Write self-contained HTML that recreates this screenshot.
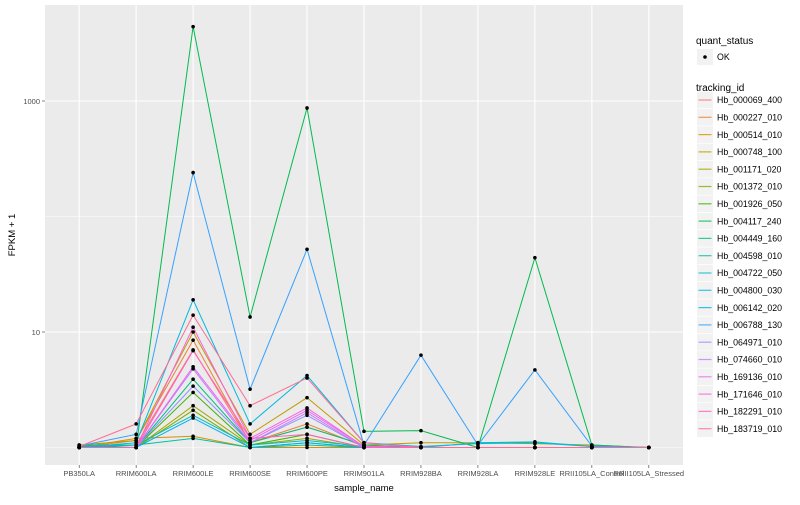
<!DOCTYPE html>
<html><head><meta charset="utf-8"><style>body{margin:0;background:#fff}svg{font-family:"Liberation Sans",sans-serif}</style></head>
<body>
<svg id="c" width="800" height="500"></svg>
<script>
const categories=["PB350LA","RRIM600LA","RRIM600LE","RRIM600SE","RRIM600PE","RRIM901LA","RRIM928BA","RRIM928LA","RRIM928LE","RRII105LA_Control","RRII105LA_Stressed"];
const seriesNames=["Hb_000069_400","Hb_000227_010","Hb_000514_010","Hb_000748_100","Hb_001171_020","Hb_001372_010","Hb_001926_050","Hb_004117_240","Hb_004449_160","Hb_004598_010","Hb_004722_050","Hb_004800_030","Hb_006142_020","Hb_006788_130","Hb_064971_010","Hb_074660_010","Hb_169136_010","Hb_171646_010","Hb_182291_010","Hb_183719_010"];
const seriesColors=["#F8766D","#EA8331","#D89000","#C09B00","#A3A500","#7CAE00","#39B600","#00BB4E","#00BF7D","#00C1A3","#00BFC4","#00BAE0","#00B0F6","#35A2FF","#9590FF","#C77CFF","#E76BF3","#FA62DB","#FF62BC","#FF6C91"];
const s0=[1.02,1.05,7.0,1.1,1.5,1.05,1,1,1,1,1];
const s1=[1,1.15,8.5,1.1,1.6,1.02,1,1,1,1,1];
const s2=[1,1.2,1.25,1,1,1,1,1,1,1,1];
const s3=[1.05,1.15,10,1.3,2.7,1.05,1.1,1.1,1.08,1.05,1];
const s4=[1,1,2.3,1.05,1.2,1,1,1,1,1,1];
const s5=[1,1,2.1,1,1.1,1,1,1,1,1,1];
const s6=[1,1,3.0,1.05,1.3,1,1,1,1,1,1];
const s7=[1.03,1,4400,13.5,870,1.38,1.4,1,44,1.05,1];
const s8=[1,1,3.9,1.1,1.5,1.05,1,1,1,1,1];
const s9=[1.05,1.05,1.2,1,1.05,1,1,1,1,1,1];
const s10=[1,1.05,1.9,1.05,1.15,1.02,1,1.1,1.12,1.02,1];
const s11=[1,1.1,19,1.6,4.2,1.1,1.02,1.08,1.1,1.02,1];
const s12=[1,1,1.8,1,1.1,1,1,1,1,1,1];
const s13=[1.03,1.3,240,3.2,52,1.05,6.3,1.05,4.7,1.03,1];
const s14=[1,1,3.4,1.1,1.9,1,1,1,1,1,1];
const s15=[1,1,4.8,1.1,2.0,1,1,1,1,1,1];
const s16=[1,1,5.0,1.15,2.1,1.02,1,1,1,1,1];
const s17=[1,1,11,1.2,2.2,1.02,1,1,1,1,1];
const s18=[1,1,6.9,1.2,1.3,1,1,1,1,1,1];
const s19=[1.02,1.6,14,2.3,4.0,1.1,1,1,1,1,1];
const seriesValues=[s0,s1,s2,s3,s4,s5,s6,s7,s8,s9,s10,s11,s12,s13,s14,s15,s16,s17,s18,s19];
const yTickValues=[10,1000];
const yTickLabels=["10","1000"];
const yMinorValues=[1,100];

const NS="http://www.w3.org/2000/svg";
const svg=document.getElementById('c');
const PL=45,PR=683,PT=5,PB=465;
const step=(PR-PL)/(categories.length+0.2);
function xs(i){return PL+0.6*step+i*step;}
function ys(v){return 332-(Math.log10(v)-1)*115.5;}
function mk(t,a,p){const e=document.createElementNS(NS,t);for(const k in a)e.setAttribute(k,a[k]);(p||svg).appendChild(e);return e;}
const panel=mk('rect',{x:PL,y:PT,width:PR-PL,height:PB-PT,fill:'#ebebeb'});


yMinorValues.forEach(v=>{const l=mk('line',{x1:PL,x2:PR,y1:ys(v),y2:ys(v),stroke:'#fff','stroke-width':0.6});

});
yTickValues.forEach((v,i)=>{const l=mk('line',{x1:PL,x2:PR,y1:ys(v),y2:ys(v),stroke:'#fff','stroke-width':1.1});


mk('line',{x1:PL-3,x2:PL,y1:ys(v),y2:ys(v),stroke:'#333','stroke-width':0.6});
const t=mk('text',{x:PL-5,y:ys(v)+3,'text-anchor':'end','font-size':7.5,fill:'#4d4d4d'});t.textContent=yTickLabels[i];

});
categories.forEach((c,i)=>{const l=mk('line',{x1:xs(i),x2:xs(i),y1:PT,y2:PB,stroke:'#fff','stroke-width':1.1});


mk('line',{x1:xs(i),x2:xs(i),y1:PB,y2:PB+3,stroke:'#333','stroke-width':0.6});
const t=mk('text',{x:xs(i),y:PB+11,'text-anchor':'middle','font-size':7.5,fill:'#4d4d4d'});t.textContent=c;

});
seriesValues.forEach((vals,s)=>{const p=mk('polyline',{points:vals.map((v,i)=>xs(i)+','+ys(v)).join(' '),fill:'none',stroke:seriesColors[s],'stroke-width':1});

});
seriesValues.forEach((vals,s)=>vals.forEach((v,i)=>{const c=mk('circle',{cx:xs(i),cy:ys(v),r:1.8,fill:'#000'});

}));
let t=mk('text',{x:364,y:491,'text-anchor':'middle','font-size':9.5,fill:'#000'});t.textContent='sample_name';


t=mk('text',{x:15,y:235,'text-anchor':'middle','font-size':9.5,fill:'#000',transform:'rotate(-90 15 235)'});t.textContent='FPKM + 1';


t=mk('text',{x:696,y:44,'font-size':10,fill:'#000'});t.textContent='quant_status';


mk('rect',{x:697,y:49,width:16,height:16,fill:'#f2f2f2'});
mk('circle',{cx:705,cy:57,r:1.8,fill:'#000'});
t=mk('text',{x:717,y:60,'font-size':8.8,fill:'#000'});t.textContent='OK';


t=mk('text',{x:696,y:91,'font-size':10,fill:'#000'});t.textContent='tracking_id';


seriesNames.forEach((n,s)=>{const cy=100+s*17.3;
mk('rect',{x:697,y:cy-8.3,width:16,height:16.6,fill:'#f2f2f2'});
mk('line',{x1:698.5,x2:711.5,y1:cy,y2:cy,stroke:seriesColors[s],'stroke-width':1.2,'stroke-opacity':0.8});
const tt=mk('text',{x:717,y:cy+3.2,'font-size':8.8,fill:'#000'});tt.textContent=n;

});
</script>
</body></html>
